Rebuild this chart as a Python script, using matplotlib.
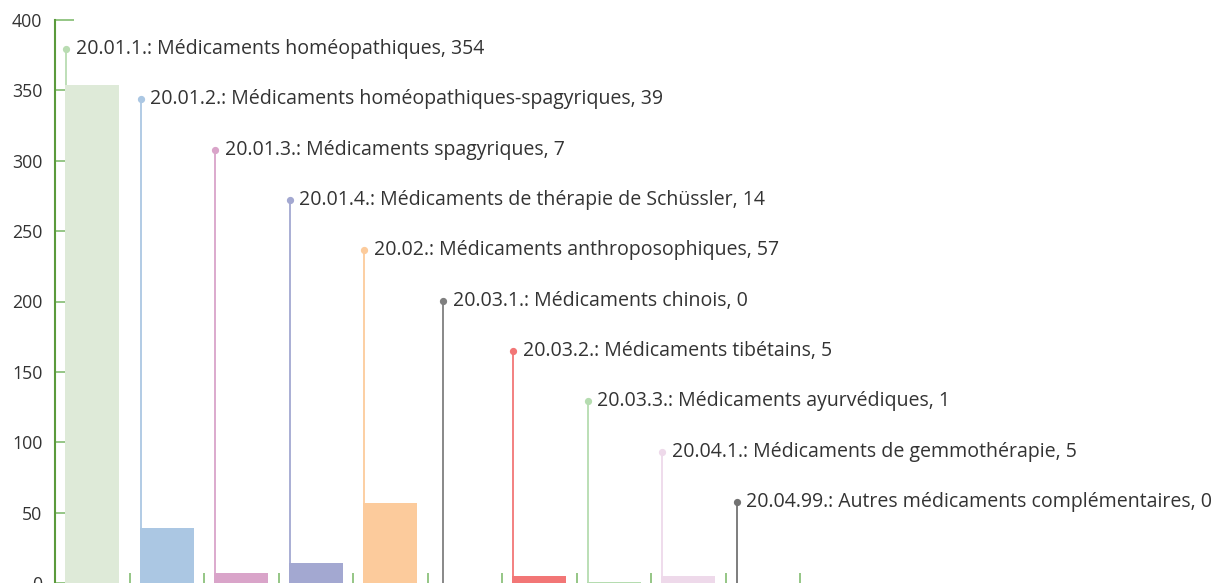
import matplotlib
matplotlib.use("Agg")
import matplotlib.pyplot as plt

codes = ["20.01.1.", "20.01.2.", "20.01.3.", "20.01.4.", "20.02.",
         "20.03.1.", "20.03.2.", "20.03.3.", "20.04.1.", "20.04.99."]
names = ["Médicaments homéopathiques",
         "Médicaments homéopathiques-spagyriques",
         "Médicaments spagyriques",
         "Médicaments de thérapie de Schüssler",
         "Médicaments anthroposophiques",
         "Médicaments chinois",
         "Médicaments tibétains",
         "Médicaments ayurvédiques",
         "Médicaments de gemmothérapie",
         "Autres médicaments complémentaires"]
values = [354, 39, 7, 14, 57, 0, 5, 1, 5, 0]
bar_colors = ["#deead8", "#abc7e3", "#d9a4c9", "#a3a8d1", "#fccb9c",
              "#7f7f7f", "#f27676", "#b5dcb0", "#eed9ea", "#737373"]
line_colors = ["#b9dcb2", "#abc7e3", "#d9a4c9", "#a3a8d1", "#fccb9c",
               "#7f7f7f", "#f27676", "#b5dcb0", "#eed9ea", "#737373"]
yticks = [0, 50, 100, 150, 200, 250, 300, 350, 400]

plt.rcParams['font.family'] = ['Open Sans', 'DejaVu Sans']

W, H = 1218, 583
fig = plt.figure(figsize=(W / 100, H / 100), dpi=100)
ax = fig.add_axes([55 / W, 0, 745 / W, (H - 20) / H])

n = len(values)
xs = list(range(n))
ax.set_xlim(-0.5, n - 0.5)
ax.set_ylim(0, 400)

bw = 0.725
ax.bar(xs, values, width=bw, color=bar_colors, zorder=3)

top_y = 379.3
step = 35.75
for i, (c, nm, v) in enumerate(zip(codes, names, values)):
    lx = i - 0.349 + (0.06 if v == 0 and i < n - 1 else 0)
    ly = top_y - step * i
    ax.plot([lx, lx], [0, ly], color=line_colors[i], lw=1.3, zorder=2,
            solid_capstyle='butt', clip_on=False)
    ax.plot([lx], [ly], 'o', ms=4.2, color=line_colors[i], zorder=4,
            clip_on=False)
    ax.annotate(f"{c}: {nm}, {v}", xy=(lx, ly), xytext=(6.8, 0),
                textcoords='offset points', va='center', ha='left',
                fontsize=14.05, color='#333333', annotation_clip=False)

for s in ['top', 'right', 'bottom']:
    ax.spines[s].set_visible(False)
ax.spines['left'].set_color('#5b9a3c')
ax.spines['left'].set_linewidth(1.5)

ax.set_yticks(yticks)
ax.set_yticklabels([str(t) for t in yticks])
ax.tick_params(axis='y', direction='in', length=13.5, width=1.3,
               color='#8cc27c', labelsize=12.8, labelcolor='#333333', pad=9)
ax.tick_params(axis='x', direction='in', length=7.5, width=1.3,
               color='#8cc27c', labelbottom=False)
ax.set_xticks([i + 0.5 for i in range(n)])

fig.savefig("out.png", dpi=100)
